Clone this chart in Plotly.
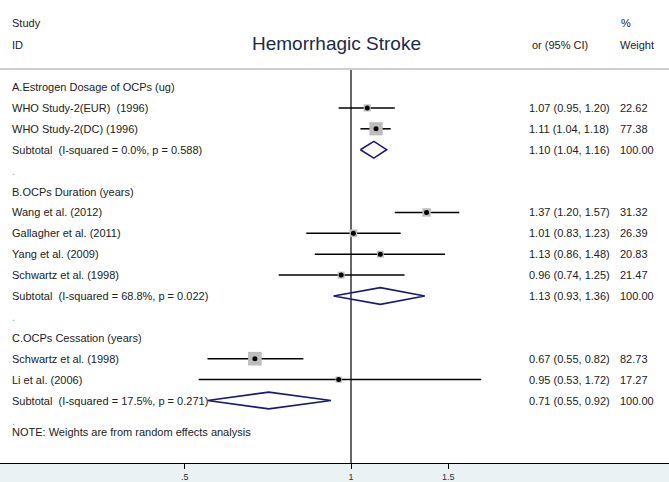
import plotly.graph_objects as go
import math

# ---------------- data ----------------
row_labels = [
    "A.Estrogen Dosage of OCPs (ug)",
    "WHO Study-2(EUR)  (1996)",
    "WHO Study-2(DC) (1996)",
    "Subtotal  (I-squared = 0.0%, p = 0.588)",
    ".",
    "B.OCPs Duration (years)",
    "Wang et al. (2012)",
    "Gallagher et al. (2011)",
    "Yang et al. (2009)",
    "Schwartz et al. (1998)",
    "Subtotal  (I-squared = 68.8%, p = 0.022)",
    ".",
    "C.OCPs Cessation (years)",
    "Schwartz et al. (1998)",
    "Li et al. (2006)",
    "Subtotal  (I-squared = 17.5%, p = 0.271)",
    ".",
]
# row kinds: h = header, s = study, t = subtotal, d = dot spacer
row_kind = ["h", "s", "s", "t", "d", "h", "s", "s", "s", "s", "t", "d", "h", "s", "s", "t", "d"]
or_est = [None, 1.07, 1.11, 1.10, None, None, 1.37, 1.01, 1.13, 0.96, 1.13, None, None, 0.67, 0.95, 0.71, None]
or_lo = [None, 0.95, 1.04, 1.04, None, None, 1.20, 0.83, 0.86, 0.74, 0.93, None, None, 0.55, 0.53, 0.55, None]
or_hi = [None, 1.20, 1.18, 1.16, None, None, 1.57, 1.23, 1.48, 1.25, 1.36, None, None, 0.82, 1.72, 0.92, None]
weights = [None, 22.62, 77.38, 100.00, None, None, 31.32, 26.39, 20.83, 21.47, 100.00, None, None, 82.73, 17.27, 100.00, None]
note_text = "NOTE: Weights are from random effects analysis"
title_text = "Hemorrhagic Stroke"
tick_vals = [0.5, 1, 1.5]
tick_text = [".5", "1", "1.5"]

# ---------------- layout constants ----------------
W, H = 669, 482
AXIS_PX = 463          # pixel y of x axis
ROW0_PX = 87.0         # pixel y of first row
ROW_PX = 20.9          # row spacing
ONE_PX = 351.0         # pixel x of OR = 1
LN_PX = 240.0          # pixels per natural-log unit

def px2row(p):
    return (p - ROW0_PX) / ROW_PX

y_top = px2row(0)
y_bot = px2row(AXIS_PX)
x_lo = (0 - ONE_PX) / (LN_PX * math.log(10))
x_hi = (W - ONE_PX) / (LN_PX * math.log(10))

FONT = "Liberation Sans, Arial, sans-serif"
TXT = "#222222"
NAVY = "#1a1a73"

fig = go.Figure()

# reference line at 1
fig.add_trace(go.Scatter(x=[1, 1], y=[px2row(70), y_bot], mode="lines",
                         line=dict(color="black", width=1.2), hoverinfo="skip"))

annotations = []
nbsp = lambda s: s.replace("  ", "\u00a0\u00a0")

for i, (lab, kind) in enumerate(zip(row_labels, row_kind)):
    annotations.append(dict(x=10 / W, y=i, xref="paper", yref="y", text=nbsp(lab),
                            showarrow=False, xanchor="left", yanchor="middle",
                            font=dict(family=FONT, size=11,
                                      color="#999999" if kind == "d" else TXT)))
    if kind in ("s", "t"):
        e, lo, hi, w = or_est[i], or_lo[i], or_hi[i], weights[i]
        annotations.append(dict(x=527 / W, y=i, xref="paper", yref="y",
                                text=f"{e:.2f} ({lo:.2f}, {hi:.2f})", showarrow=False,
                                xanchor="left", yanchor="middle",
                                font=dict(family=FONT, size=11, color=TXT)))
        annotations.append(dict(x=618 / W, y=i, xref="paper", yref="y",
                                text=f"{w:.2f}", showarrow=False,
                                xanchor="left", yanchor="middle",
                                font=dict(family=FONT, size=11, color=TXT)))
    if kind == "s":
        fig.add_trace(go.Scatter(x=[lo, hi], y=[i, i], mode="lines",
                                 line=dict(color="black", width=1.5), hoverinfo="skip"))
        fig.add_trace(go.Scatter(x=[e], y=[i], mode="markers",
                                 marker=dict(symbol="square", color="#bdbdbd",
                                             size=1.5 * math.sqrt(w), line=dict(width=0)),
                                 hoverinfo="skip"))
        fig.add_trace(go.Scatter(x=[e], y=[i], mode="markers",
                                 marker=dict(symbol="circle", color="black", size=5),
                                 hoverinfo="skip"))
    elif kind == "t":
        dh = 0.4
        fig.add_trace(go.Scatter(x=[lo, e, hi, e, lo], y=[i, i - dh, i, i + dh, i],
                                 mode="lines", line=dict(color=NAVY, width=1.6),
                                 hoverinfo="skip"))

# note
annotations.append(dict(x=10 / W, y=len(row_labels) - 0.5, xref="paper", yref="y",
                        text=note_text, showarrow=False, xanchor="left", yanchor="middle",
                        font=dict(family=FONT, size=11, color=TXT)))

# headers
hdr_y1, hdr_y2 = px2row(23), px2row(45)
for txt, x, y in [("Study", 10, hdr_y1), ("ID", 10, hdr_y2), ("or (95% CI)", 530, hdr_y2),
                  ("%", 619, hdr_y1), ("Weight", 618, hdr_y2)]:
    annotations.append(dict(x=x / W, y=y, xref="paper", yref="y", text=txt,
                            showarrow=False, xanchor="left", yanchor="middle",
                            font=dict(family=FONT, size=11, color=TXT)))
annotations.append(dict(x=336 / W, y=px2row(43), xref="paper", yref="y", text=title_text,
                        showarrow=False, xanchor="center", yanchor="middle",
                        font=dict(family=FONT, size=19, color="#1c2a4a")))

fig.update_layout(
    width=W, height=H,
    margin=dict(l=0, r=0, t=0, b=0),
    paper_bgcolor="#eaf2f3",
    plot_bgcolor="white",
    showlegend=False,
    hovermode=False,
    annotations=annotations,
    shapes=[dict(type="line", xref="paper", yref="y", x0=0, x1=1,
                 y0=px2row(69), y1=px2row(69), line=dict(color="#cfcfcf", width=2))],
    xaxis=dict(type="log", range=[x_lo, x_hi], domain=[0, 1],
               tickvals=tick_vals, ticktext=tick_text, ticks="outside", ticklen=5,
               tickcolor="black", tickwidth=1, showline=True, linecolor="black",
               linewidth=1, showgrid=False, zeroline=False,
               tickfont=dict(family=FONT, size=9, color="#333333"), fixedrange=True),
    yaxis=dict(range=[y_bot, y_top], domain=[(H - AXIS_PX) / H, 1], visible=False,
               fixedrange=True),
)

fig.write_html("out.html", config={"displayModeBar": False},
               post_script="document.body.style.margin='0';document.body.style.overflow='hidden';")
